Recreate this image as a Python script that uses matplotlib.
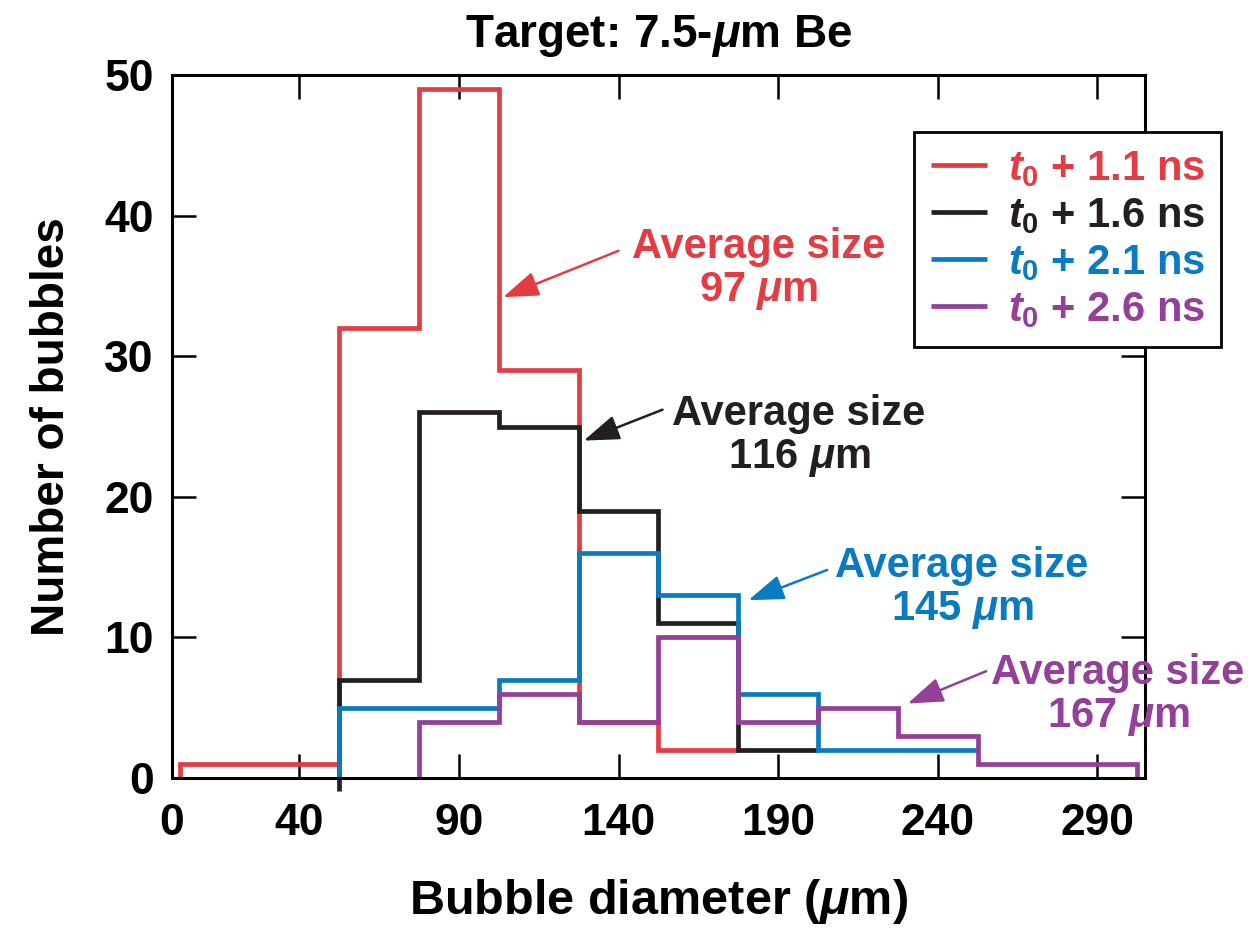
import matplotlib
matplotlib.use("Agg")
import matplotlib.pyplot as plt
import numpy as np

plt.rcParams['font.family'] = ['Liberation Sans', 'DejaVu Sans']
plt.rcParams['font.weight'] = 'bold'
plt.rcParams['axes.labelweight'] = 'bold'
plt.rcParams['axes.titleweight'] = 'bold'
plt.rcParams['mathtext.fontset'] = 'custom'
plt.rcParams['mathtext.rm'] = 'Liberation Sans:bold'
plt.rcParams['mathtext.bf'] = 'Liberation Sans:bold'
plt.rcParams['mathtext.it'] = 'Liberation Sans:bold:italic'

# Histogram data (bin edges in um, counts per bin)
red_edges = [2.5, 27.5, 52.5, 77.5, 102.5, 127.5, 152.5, 177.5]
red_counts = [1, 1, 32, 49, 29, 4, 2]
black_edges = [52.5, 77.5, 102.5, 127.5, 152.5, 177.5, 202.5]
black_counts = [7, 26, 25, 19, 11, 2]
blue_edges = [52.5, 77.5, 102.5, 127.5, 152.5, 177.5, 202.5, 227.5, 252.5]
blue_counts = [5, 5, 7, 16, 13, 6, 2, 2]
purple_edges = [77.5, 102.5, 127.5, 152.5, 177.5, 202.5, 227.5, 252.5, 277.5, 302.5]
purple_counts = [4, 6, 4, 10, 4, 5, 3, 1, 1]

labels = [r'$t_0$ + 1.1 ns', r'$t_0$ + 1.6 ns', r'$t_0$ + 2.1 ns', r'$t_0$ + 2.6 ns']
colors = ['#E23D43', '#231F20', '#0B7BC1', '#943F98']
avg_sizes = [97, 116, 145, 167]

x_ticks = [0, 40, 90, 140, 190, 240, 290]
y_ticks = [0, 10, 20, 30, 40, 50]


def step_xy(edges, counts, start=0.0, drop_end=False):
    xs = [edges[0]]
    ys = [start]
    for i, c in enumerate(counts):
        xs += [edges[i], edges[i + 1]]
        ys += [c, c]
    if drop_end:
        xs.append(edges[-1])
        ys.append(0)
    return xs, ys


fig = plt.figure(figsize=(12.51, 9.31), dpi=100)
ax = fig.add_axes([0.1373, 0.1643, 0.7780, 0.7551])

series = [
    (red_edges, red_counts, 0.0, False),
    (black_edges, black_counts, -0.9, False),
    (blue_edges, blue_counts, 0.0, False),
    (purple_edges, purple_counts, 0.0, True),
]
handles = []
for (edges, counts, start, drop), col, lab in zip(series, colors, labels):
    xs, ys = step_xy(edges, counts, start, drop)
    ln, = ax.plot(xs, ys, color=col, lw=3.4, label=lab, clip_on=False,
                  solid_joinstyle='miter', solid_capstyle='butt')
    handles.append(ln)

ax.set_xlim(0, 305)
ax.set_ylim(0, 50)
ax.set_xticks(x_ticks)
ax.set_yticks(y_ticks)
ax.tick_params(direction='in', length=17, width=1.8, top=True, right=True,
               labelsize=32, pad=13)
ax.tick_params(axis='x', pad=18)
for s in ax.spines.values():
    s.set_linewidth(2.2)

ax.set_xlabel(r'Bubble diameter ($\mu$m)', fontsize=35, labelpad=24)
ax.set_ylabel('Number of bubbles', fontsize=33, labelpad=22)
ax.set_title(r'Target: 7.5-$\mu$m Be', fontsize=33, pad=20)

# annotations: (text center, arrow tail, arrow head)
text_pos = [(184, 36.2), (196.5, 24.3), (247.6, 13.5), (296.5, 5.85)]
arrow_tail = [(140, 37.5), (153.8, 26.2), (205.4, 14.8), (255.2, 7.6)]
arrow_head = [(103.8, 34.2), (129.1, 24.0), (180.7, 12.65), (230.6, 5.3)]
for (tx, ty), tail, head, col, avg in zip(text_pos, arrow_tail, arrow_head, colors, avg_sizes):
    ax.text(tx, ty, 'Average size\n%d $\\mu$m' % avg, color=col, fontsize=30,
            ha='center', va='center', linespacing=1.1, clip_on=False)
    ax.annotate('', xy=head, xytext=tail,
                arrowprops=dict(arrowstyle='-|>,head_length=1.0,head_width=0.35',
                                mutation_scale=22, color=col, lw=1.8,
                                shrinkA=0, shrinkB=0))

leg = ax.legend(handles=handles, loc='upper left', bbox_to_anchor=(0.7306, 0.8582),
                bbox_transform=fig.transFigure, borderaxespad=0, fontsize=30,
                frameon=True, fancybox=False, framealpha=1, edgecolor='black',
                handlelength=1.35, handletextpad=0.5, labelspacing=0.17,
                borderpad=0.4)
leg.get_frame().set_linewidth(2.0)
leg.set_zorder(10)
for txt, col in zip(leg.get_texts(), colors):
    txt.set_color(col)

fig.savefig('out.png', dpi=100)
